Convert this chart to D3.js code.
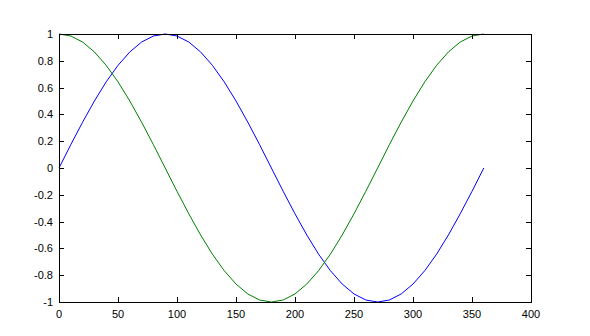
<!DOCTYPE html>
<html><head><meta charset="utf-8">
<script src="https://cdn.jsdelivr.net/npm/d3@7"></script>
<style>body{margin:0;background:#fff}svg{display:block}</style>
</head><body><svg id="c" width="590" height="336"></svg>
<script>
const angles = [0,10,20,30,40,50,60,70,80,90,100,110,120,130,140,150,160,170,180,190,200,210,220,230,240,250,260,270,280,290,300,310,320,330,340,350,360];
const sinValues = [0,0.174,0.342,0.5,0.643,0.766,0.866,0.94,0.985,1,0.985,0.94,0.866,0.766,0.643,0.5,0.342,0.174,0,-0.174,-0.342,-0.5,-0.643,-0.766,-0.866,-0.94,-0.985,-1,-0.985,-0.94,-0.866,-0.766,-0.643,-0.5,-0.342,-0.174,0];
const cosValues = [1,0.985,0.94,0.866,0.766,0.643,0.5,0.342,0.174,0,-0.174,-0.342,-0.5,-0.643,-0.766,-0.866,-0.94,-0.985,-1,-0.985,-0.94,-0.866,-0.766,-0.643,-0.5,-0.342,-0.174,0,0.174,0.342,0.5,0.643,0.766,0.866,0.94,0.985,1];
const xTicks = [0,50,100,150,200,250,300,350,400];
const yTicks = [-1,-0.8,-0.6,-0.4,-0.2,0,0.2,0.4,0.6,0.8,1];

const svg = d3.select("#c");
const L=59, R=531, T=34, B=302;
const x = d3.scaleLinear().domain([0,400]).range([L,R]);
const y = d3.scaleLinear().domain([-1,1]).range([B,T]);
const font = "Arial, 'Liberation Sans', sans-serif";

const line = d3.line().x(d=>x(d[0])).y(d=>y(d[1]));
svg.append("path").datum(angles.map((a,i)=>[a,sinValues[i]]))
  .attr("d",line).attr("fill","none").attr("stroke","#0000ff").attr("stroke-width",1);
svg.append("path").datum(angles.map((a,i)=>[a,cosValues[i]]))
  .attr("d",line).attr("fill","none").attr("stroke","#007f00").attr("stroke-width",1);

// axes with inward ticks
const g = svg.append("g").attr("stroke","#000").attr("stroke-width",1).attr("shape-rendering","crispEdges");
g.append("rect").attr("x",L).attr("y",T).attr("width",R-L).attr("height",B-T).attr("fill","none");
const tl = 5;
xTicks.forEach(t=>{
  const px = Math.round(x(t));
  g.append("line").attr("x1",px).attr("x2",px).attr("y1",B).attr("y2",B-tl);
  g.append("line").attr("x1",px).attr("x2",px).attr("y1",T).attr("y2",T+tl);
});
yTicks.forEach(t=>{
  const py = Math.round(y(t));
  g.append("line").attr("x1",L).attr("x2",L+tl).attr("y1",py).attr("y2",py);
  g.append("line").attr("x1",R).attr("x2",R-tl).attr("y1",py).attr("y2",py);
});
svg.append("g").selectAll("text").data(xTicks).join("text")
  .attr("x",d=>x(d)).attr("y",B+16).attr("text-anchor","middle")
  .attr("font-family",font).attr("font-size",11).text(d=>d);
svg.append("g").selectAll("text").data(yTicks).join("text")
  .attr("x",L-6).attr("y",d=>y(d)+4).attr("text-anchor","end")
  .attr("font-family",font).attr("font-size",11).text(d=>d);
</script></body></html>
